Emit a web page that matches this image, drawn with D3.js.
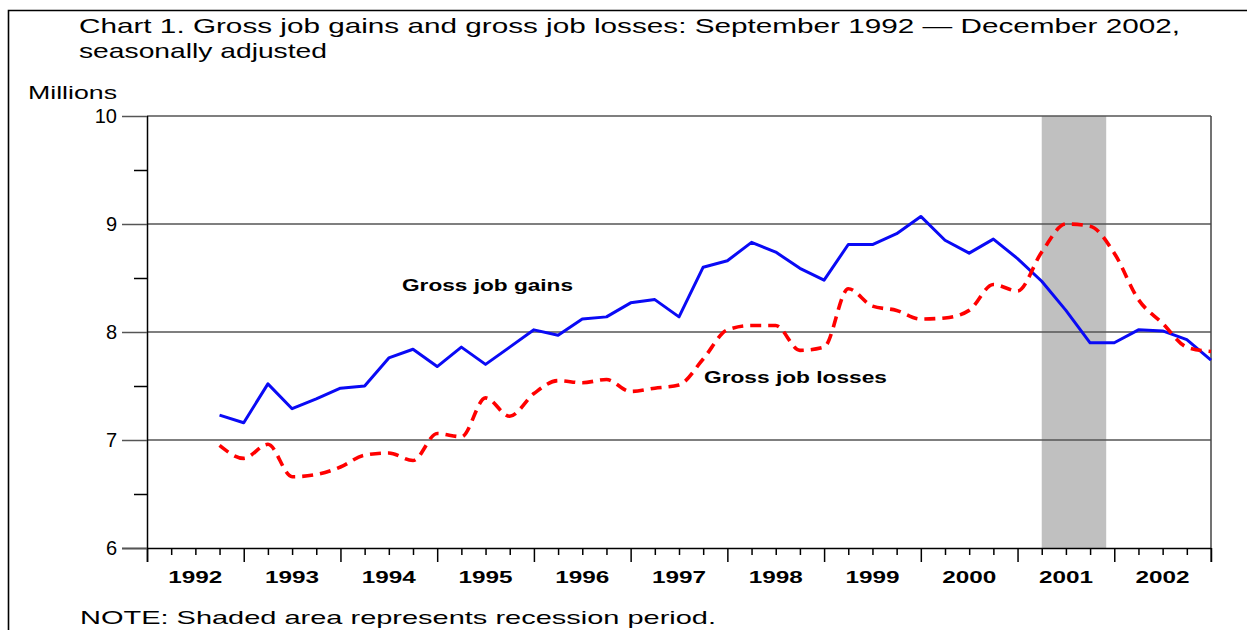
<!DOCTYPE html>
<html>
<head>
<meta charset="utf-8">
<script src="https://cdn.jsdelivr.net/npm/d3@7/dist/d3.min.js"></script>
<style>
  body { margin: 0; background: #fff; }
  text { font-family: "Liberation Sans", Arial, sans-serif; fill: #000; }
</style>
</head>
<body>
<div class="chart"></div>
<script>
// quarters from Sept 1992 (1992Q3) to Dec 2002 (2002Q4)
var quarters = ["1992Q3","1992Q4",
  "1993Q1","1993Q2","1993Q3","1993Q4","1994Q1","1994Q2","1994Q3","1994Q4",
  "1995Q1","1995Q2","1995Q3","1995Q4","1996Q1","1996Q2","1996Q3","1996Q4",
  "1997Q1","1997Q2","1997Q3","1997Q4","1998Q1","1998Q2","1998Q3","1998Q4",
  "1999Q1","1999Q2","1999Q3","1999Q4","2000Q1","2000Q2","2000Q3","2000Q4",
  "2001Q1","2001Q2","2001Q3","2001Q4","2002Q1","2002Q2","2002Q3","2002Q4"];

var gains = [7.23,7.16,
  7.52,7.29,7.38,7.48, 7.50,7.76,7.84,7.68, 7.86,7.70,7.86,8.02, 7.97,8.12,8.14,8.27,
  8.30,8.14,8.60,8.66, 8.83,8.74,8.59,8.48, 8.81,8.81,8.91,9.07, 8.85,8.73,8.86,8.68,
  8.47,8.20,7.90,7.90, 8.02,8.01,7.93,7.74];

var losses = [6.95,6.83,
  6.96,6.66,6.68,6.75, 6.86,6.88,6.81,7.06, 7.03,7.39,7.22,7.43, 7.55,7.53,7.56,7.45,
  7.48,7.51,7.75,8.02, 8.06,8.06,7.83,7.86, 8.40,8.24,8.20,8.12, 8.13,8.20,8.44,8.38,
  8.74,9.00,8.98,8.73, 8.30,8.08,7.86,7.82];

var years = ["1992","1993","1994","1995","1996","1997","1998","1999","2000","2001","2002"];
var yTicks = [6,7,8,9,10];
var recession = ["2001-03","2001-11"]; // March 2001 - November 2001

// quarter index counted from the start of 1992 (end of quarter position)
function qIndex(s) { return (+s.substr(0,4) - 1992) * 4 + (+s.substr(5,1)); }
function mIndex(s) { return ((+s.substr(0,4) - 1992) * 12 + (+s.substr(5,2))) / 3; }

var W = 1247, H = 630;
var margin = {left: 147, right: 1211, top: 116, bottom: 548};

var svg = d3.select(".chart").append("svg")
  .attr("width", W).attr("height", H);

var x = d3.scaleLinear().domain([0, years.length * 4]).range([margin.left, margin.right]);
var y = d3.scaleLinear().domain([6, 10]).range([margin.bottom, margin.top]);

// outer frame
svg.append("path")
  .attr("d", "M8.5," + H + "V10.5H" + W)
  .attr("fill", "none").attr("stroke", "#000").attr("stroke-width", 1.6);

// recession shading
svg.append("rect")
  .attr("x", x(mIndex(recession[0])))
  .attr("width", x(mIndex(recession[1])) - x(mIndex(recession[0])))
  .attr("y", y(10)).attr("height", y(6) - y(10))
  .attr("fill", "#c0c0c0");

// horizontal grid
svg.append("g").selectAll("line")
  .data([7, 8, 9, 10])
  .enter().append("line")
    .attr("x1", margin.left).attr("x2", margin.right)
    .attr("y1", function(d){ return y(d); }).attr("y2", function(d){ return y(d); })
    .attr("stroke", "#555").attr("stroke-width", 1.5);

// right edge
svg.append("line")
  .attr("x1", margin.right).attr("x2", margin.right)
  .attr("y1", y(10)).attr("y2", y(6) + 14)
  .attr("stroke", "#444").attr("stroke-width", 1.5);

// x axis: quarter ticks, long at year boundaries
var xAxis = d3.axisBottom(x)
  .tickValues(d3.range(0, years.length * 4 + 1))
  .tickSize(7).tickSizeOuter(0).tickFormat("");
var gx = svg.append("g")
  .attr("transform", "translate(0," + margin.bottom + ")")
  .call(xAxis);
gx.select(".domain").attr("stroke", "#000").attr("stroke-width", 1.5)
  .attr("d", "M" + (margin.left - 25) + ",0.5H" + margin.right);
gx.selectAll(".tick line")
  .attr("stroke", "#000").attr("stroke-width", 1.5)
  .attr("y2", function(d){ return d % 4 === 0 ? 14 : 7; });

gx.selectAll(".year")
  .data(years)
  .enter().append("text")
    .attr("class", "year")
    .attr("x", function(d, i){ return x(i * 4 + 2); })
    .attr("y", 35)
    .attr("text-anchor", "middle")
    .attr("textLength", 54).attr("lengthAdjust", "spacingAndGlyphs")
    .style("font-size", "16px").style("font-weight", "bold")
    .style("fill", "#000")
    .text(function(d){ return d; });

// y axis
var yAxis = d3.axisLeft(y)
  .tickValues(d3.range(6, 10.01, 0.5))
  .tickSize(13).tickSizeOuter(0).tickFormat("");
var gy = svg.append("g")
  .attr("transform", "translate(" + margin.left + ",0)")
  .call(yAxis);
gy.select(".domain").attr("stroke", "#000").attr("stroke-width", 1.5)
  .attr("d", "M0.5," + margin.top + "V" + (margin.bottom + 14));
gy.selectAll(".tick line")
  .attr("stroke", function(d){ return d % 1 === 0 ? "#555" : "#000"; })
  .attr("stroke-width", 1.5)
  .attr("x2", function(d){ return d % 1 === 0 ? -25 : -13; });

svg.append("g").selectAll("text")
  .data(yTicks)
  .enter().append("text")
    .attr("x", 117)
    .attr("y", function(d){ return y(d) + 6.5; })
    .attr("text-anchor", "end")
    .style("font-size", "20px")
    .text(function(d){ return d; });

// series
var gainPts = quarters.map(function(q, i){ return [qIndex(q), gains[i]]; });
var lossPts = quarters.map(function(q, i){ return [qIndex(q), losses[i]]; });

var line = d3.line()
  .x(function(d){ return x(d[0]); })
  .y(function(d){ return y(d[1]); });

svg.append("path")
  .datum(gainPts)
  .attr("d", line)
  .attr("fill", "none").attr("stroke", "#0a0af5")
  .attr("stroke-width", 3).attr("stroke-linejoin", "round");

svg.append("path")
  .datum(lossPts)
  .attr("d", line.curve(d3.curveMonotoneX))
  .attr("fill", "none").attr("stroke", "#ff0000")
  .attr("stroke-width", 3.6).attr("stroke-dasharray", "11,7");

// series labels
svg.append("text")
  .attr("x", 402).attr("y", 291)
  .attr("textLength", 171).attr("lengthAdjust", "spacingAndGlyphs")
  .style("font-size", "16.5px").style("font-weight", "bold")
  .text("Gross job gains");

svg.append("text")
  .attr("x", 704).attr("y", 383)
  .attr("textLength", 183).attr("lengthAdjust", "spacingAndGlyphs")
  .style("font-size", "16.5px").style("font-weight", "bold")
  .text("Gross job losses");

// titles and notes
svg.append("text")
  .attr("x", 79).attr("y", 33)
  .attr("textLength", 1101).attr("lengthAdjust", "spacingAndGlyphs")
  .style("font-size", "21px")
  .text("Chart 1. Gross job gains and gross job losses: September 1992 \u2014 December 2002,");

svg.append("text")
  .attr("x", 79).attr("y", 58)
  .attr("textLength", 248).attr("lengthAdjust", "spacingAndGlyphs")
  .style("font-size", "21px")
  .text("seasonally adjusted");

svg.append("text")
  .attr("x", 28).attr("y", 99)
  .attr("textLength", 89).attr("lengthAdjust", "spacingAndGlyphs")
  .style("font-size", "18px")
  .text("Millions");

svg.append("text")
  .attr("x", 80).attr("y", 624)
  .attr("textLength", 636).attr("lengthAdjust", "spacingAndGlyphs")
  .style("font-size", "19px")
  .text("NOTE: Shaded area represents recession period.");
</script>
</body>
</html>
